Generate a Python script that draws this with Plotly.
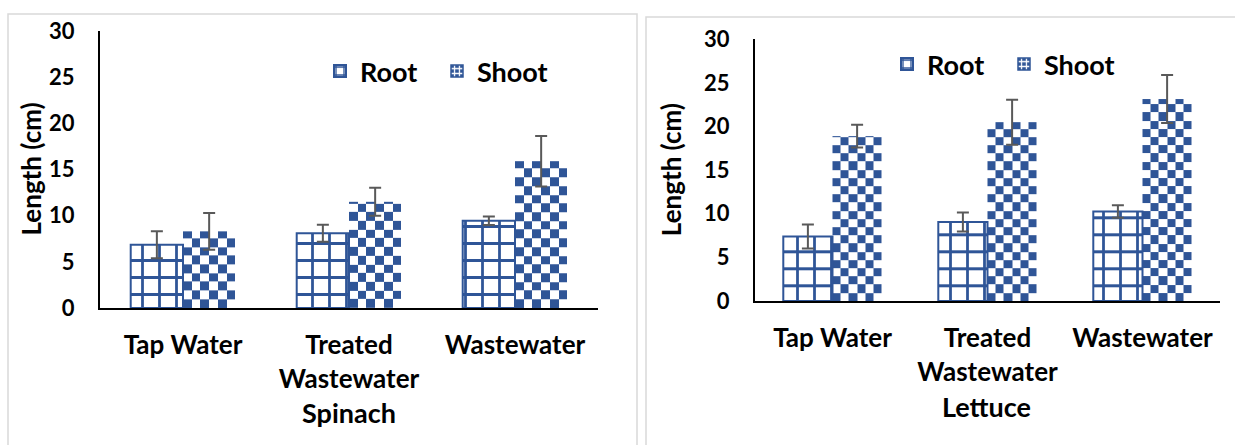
import numpy as np
import plotly.graph_objects as go

# ---------------- data ----------------
categories = ["Tap Water", "Treated<br>Wastewater", "Wastewater"]
y_ticks = [0, 5, 10, 15, 20, 25, 30]

spinach_root = [6.85, 8.1, 9.45]
spinach_root_err = [1.45, 0.92, 0.47]
spinach_shoot = [8.3, 11.5, 15.9]
spinach_shoot_err = [1.98, 1.52, 2.74]

lettuce_root = [7.4, 9.05, 10.25]
lettuce_root_err = [1.37, 1.09, 0.72]
lettuce_shoot = [18.9, 20.5, 23.15]
lettuce_shoot_err = [1.3, 2.58, 2.75]

series_names = ["Root", "Shoot"]
crop_names = ["Spinach", "Lettuce"]

# ---------------- style ----------------
W, H = 1235, 445
BLUE = "#2F5597"
ERR = "#595959"
FONT = "Lato"
CHECK_PX = 8.6

panels = [
    dict(xl=100, xr=598, yt=31, yb=308, half=0.315, xa="x", ya="y", lg="legend",
         title_x=349, title_y=412, ytitle_x=30, leg_x=320, leg_y=47, standoff=13),
    dict(xl=755, xr=1220, yt=39.3, yb=301, half=0.3175, xa="x2", ya="y2", lg="legend2",
         title_x=987, title_y=406, ytitle_x=671, leg_x=887, leg_y=40, standoff=13),
]
data = [
    (spinach_root, spinach_root_err, spinach_shoot, spinach_shoot_err),
    (lettuce_root, lettuce_root_err, lettuce_shoot, lettuce_shoot_err),
]

fig = go.Figure()
xpos = list(range(len(categories)))

for p, (r, re_, s, se) in zip(panels, data):
    px_x = (p["xr"] - p["xl"]) / 3.0
    px_y = (p["yb"] - p["yt"]) / 30.0
    w = p["half"]
    ncols = max(1, int(round(w * px_x / CHECK_PX)))
    cell_h = (w * px_x / ncols) / px_y
    # checkerboard fill of the shoot bars
    for i, v in zip(xpos, s):
        xe = np.linspace(i, i + w, ncols + 1)
        ye = list(np.arange(0, v, cell_h)) + [v]
        nr = len(ye) - 1
        z = [[(rr + cc) % 2 for cc in range(ncols)] for rr in range(nr)]
        fig.add_trace(go.Heatmap(x=xe, y=ye, z=z, zmin=0, zmax=1,
                                 colorscale=[[0, BLUE], [1, "white"]],
                                 showscale=False, hoverinfo="skip",
                                 xaxis=p["xa"], yaxis=p["ya"], showlegend=False))
    fig.add_trace(go.Bar(
        name=series_names[0], x=xpos, y=r, width=w, offset=-w,
        xaxis=p["xa"], yaxis=p["ya"], legend=p["lg"],
        marker=dict(color="white", line=dict(color=BLUE, width=2),
                    pattern=dict(shape="+", fgcolor=BLUE, bgcolor="white",
                                 size=17, solidity=0.3, fgopacity=1)),
        error_y=dict(type="data", array=re_, color=ERR, thickness=2, width=6),
    ))
    fig.add_trace(go.Bar(
        name=series_names[1], x=xpos, y=s, width=w, offset=0,
        xaxis=p["xa"], yaxis=p["ya"], legend=p["lg"],
        marker=dict(color=BLUE, opacity=0, line=dict(color=BLUE, width=1.5),
                    pattern=dict(shape="+", fgcolor="white", bgcolor=BLUE,
                                 size=6, solidity=0.45, fgopacity=1)),
        error_y=dict(type="data", array=se, color=ERR, thickness=2, width=6),
    ))

axis_font = dict(family=FONT, size=22, color="black", weight="bold")
cat_font = dict(family=FONT, size=26, color="black", weight="bold")

layout = dict(
    template="none",
    width=W, height=H, margin=dict(l=0, r=0, t=0, b=0, autoexpand=False),
    paper_bgcolor="white", plot_bgcolor="rgba(0,0,0,0)",
    barmode="overlay", showlegend=True,
)
annotations = []
shapes = []
for k, (p, crop) in enumerate(zip(panels, crop_names)):
    sx = "" if k == 0 else "2"
    layout["xaxis" + sx] = dict(
        domain=[p["xl"] / W, p["xr"] / W], range=[-0.5, 2.5],
        tickvals=xpos, ticktext=categories, tickfont=cat_font,
        showline=True, linecolor="black", linewidth=2, showgrid=False,
        zeroline=False, ticks="", ticklabelstandoff=p["standoff"],
        anchor="y" + sx, fixedrange=True, automargin=False,
    )
    layout["yaxis" + sx] = dict(
        domain=[(H - p["yb"]) / H, (H - p["yt"]) / H], range=[0, 30],
        tickvals=y_ticks, tickfont=axis_font,
        showline=True, linecolor="black", linewidth=2, showgrid=False,
        zeroline=False, ticks="", ticklabelstandoff=19,
        anchor="x" + sx, fixedrange=True, automargin=False,
    )
    lg = "legend" if k == 0 else "legend2"
    layout[lg] = dict(
        orientation="h", x=p["leg_x"] / W, y=(H - p["leg_y"]) / H,
        xanchor="left", yanchor="top", bgcolor="rgba(0,0,0,0)",
        font=dict(family=FONT, size=27, color="black", weight="bold"),
        entrywidth=72, entrywidthmode="pixels",
    )
    annotations.append(dict(
        text=crop, x=p["title_x"] / W, y=(H - p["title_y"]) / H,
        xref="paper", yref="paper", showarrow=False,
        font=dict(family=FONT, size=27, color="black", weight="bold"),
        xanchor="center", yanchor="middle",
    ))
    annotations.append(dict(
        text="Length (cm)", x=p["ytitle_x"] / W,
        y=(H - (p["yt"] + p["yb"]) / 2) / H,
        xref="paper", yref="paper", showarrow=False, textangle=-90,
        font=dict(family=FONT, size=26, color="black", weight="bold"),
        xanchor="center", yanchor="middle",
    ))

shapes.append(dict(type="rect", xref="paper", yref="paper",
                   x0=8 / W, x1=637 / W, y0=-0.05, y1=(H - 14) / H,
                   line=dict(color="#D9D9D9", width=1.5), layer="below"))
shapes.append(dict(type="rect", xref="paper", yref="paper",
                   x0=646 / W, x1=1.05, y0=-0.05, y1=(H - 17) / H,
                   line=dict(color="#D9D9D9", width=1.5), layer="below"))

layout["annotations"] = annotations
layout["shapes"] = shapes
fig.update_layout(**layout)

fig.write_html("out.html", config={"displayModeBar": False},
               post_script="document.body.style.margin='0px';document.body.style.overflow='hidden';")
